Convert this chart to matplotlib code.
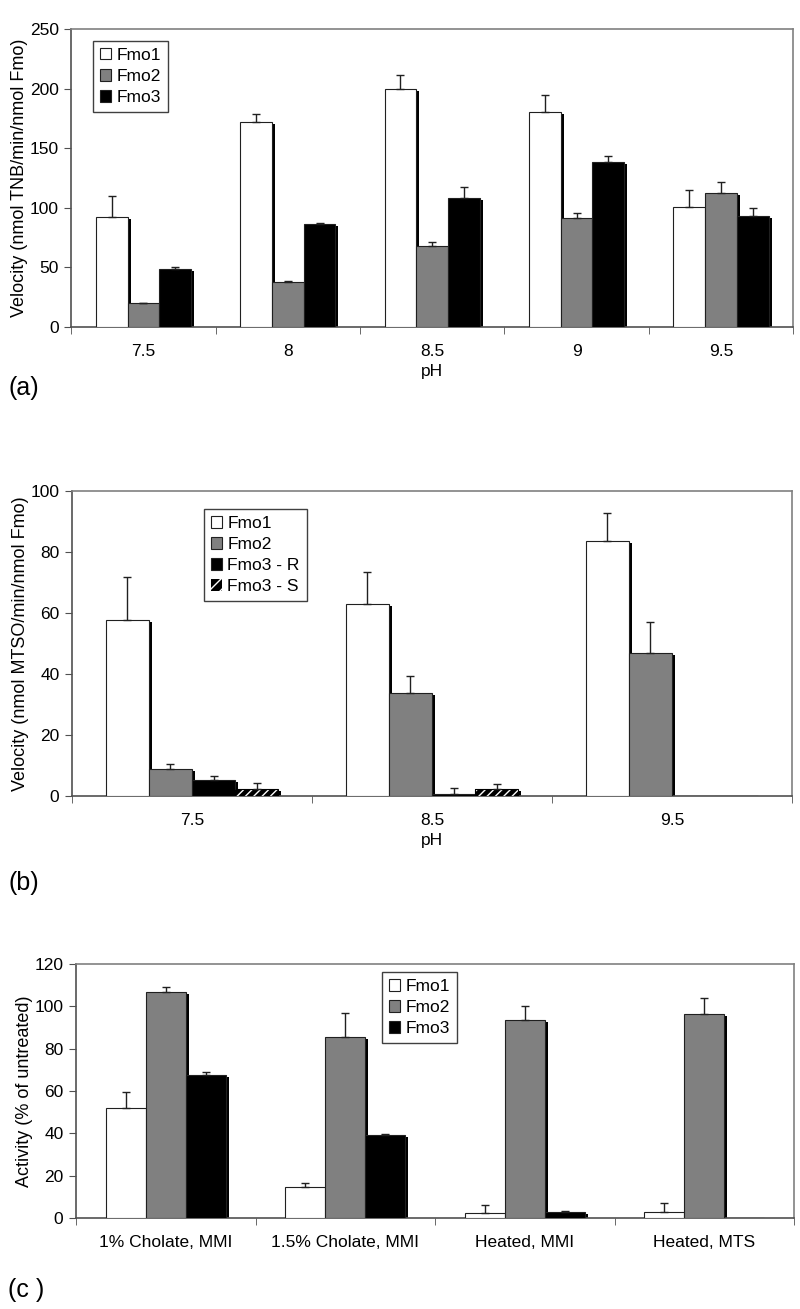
import numpy as np
import matplotlib
matplotlib.use('Agg')
import matplotlib.pyplot as plt
from matplotlib.patches import Patch

plt.rcParams['font.family'] = ['Liberation Sans', 'DejaVu Sans']
plt.rcParams['font.size'] = 12.5

# panel (a): TNB velocity vs pH
ph_a = ['7.5', '8', '8.5', '9', '9.5']
fmo1_a = [92, 172, 200, 180, 101]
fmo1_a_err = [18, 7, 11, 15, 14]
fmo2_a = [20, 38, 68, 91, 112]
fmo2_a_err = [0.5, 0.5, 3, 5, 10]
fmo3_a = [49, 86, 108, 138, 93]
fmo3_a_err = [1, 1, 9, 5, 7]

# panel (b): MTSO velocity vs pH
ph_b = ['7.5', '8.5', '9.5']
fmo1_b = [57.7, 62.8, 83.6]
fmo1_b_err = [14.1, 10.7, 9.2]
fmo2_b = [8.7, 33.7, 46.8]
fmo2_b_err = [1.7, 5.7, 10.3]
fmo3r_b = [5.4, 0.8, 0]
fmo3r_b_err = [1.0, 1.9, 0]
fmo3s_b = [2.2, 2.2, 0]
fmo3s_b_err = [2.1, 1.8, 0]

# panel (c): activity after treatment
treat_c = ['1% Cholate, MMI', '1.5% Cholate, MMI', 'Heated, MMI', 'Heated, MTS']
fmo1_c = [52, 14.6, 2.2, 3.0]
fmo1_c_err = [7.7, 1.8, 4.1, 4.1]
fmo2_c = [107, 85.7, 93.5, 96.2]
fmo2_c_err = [2, 11.3, 6.8, 7.8]
fmo3_c = [67.4, 39, 2.8, 0]
fmo3_c_err = [1.4, 0.7, 0.5, 0]

WHITE = 'white'
GRAY = '#808080'
BLACK = 'black'


def draw_panel(ax, cats, series, errs, colors, hatches, labels, width, ymax, ystep,
               ylabel, xlabel, leg_anchor):
    n = len(series)
    x = np.arange(len(cats))
    ax.set_xlim(-0.5, len(cats) - 0.5)
    ax.set_ylim(0, ymax)
    # shadow offsets in data units (about 3 px right, 2 px down)
    bbox = ax.get_window_extent()
    dx = 3.0 / bbox.width * len(cats)
    dy = 2.0 / bbox.height * ymax
    for i in range(n):
        off = (i - (n - 1) / 2.0) * width
        vals = np.array(series[i], dtype=float)
        sh = np.clip(vals - dy, 0, None)
        ax.bar(x + off + dx, sh, width, color=BLACK, linewidth=0, zorder=2)
    for i in range(n):
        off = (i - (n - 1) / 2.0) * width
        vals = np.array(series[i], dtype=float)
        if hatches[i]:
            ax.bar(x + off, vals, width, color=colors[i], edgecolor='white',
                   hatch=hatches[i], linewidth=0, zorder=3)
            ax.bar(x + off, vals, width, fill=False, edgecolor=BLACK, linewidth=0.8, zorder=4)
        else:
            ax.bar(x + off, vals, width, color=colors[i], edgecolor='#202020',
                   linewidth=0.8, zorder=3)
        e = np.array(errs[i], dtype=float)
        for j in range(len(cats)):
            if e[j] > 0:
                ax.errorbar(x[j] + off, vals[j], yerr=[[0], [e[j]]], fmt='none',
                            ecolor='#202020', elinewidth=1, capsize=3, capthick=1, zorder=5)
    ax.set_yticks(np.arange(0, ymax + 0.1, ystep))
    ax.set_xticks(x)
    ax.set_xticklabels(cats)
    ax.set_xticks(np.arange(len(cats) + 1) - 0.5, minor=True)
    ax.tick_params(axis='x', which='major', length=0, pad=12)
    ax.tick_params(axis='x', which='minor', length=5, direction='out', color='#505050')
    ax.tick_params(axis='y', length=5, direction='out', color='#505050', pad=4)
    ax.set_ylabel(ylabel, fontsize=13, labelpad=1)
    if xlabel:
        ax.set_xlabel(xlabel, labelpad=4)
    for s in ax.spines.values():
        s.set_color(GRAY)
        s.set_linewidth(1.2)
    ax.spines['left'].set_color('#505050')
    ax.spines['bottom'].set_color('#505050')
    handles = []
    for i in range(n):
        if hatches[i]:
            handles.append(Patch(facecolor=colors[i], edgecolor='white', hatch='///',
                                 linewidth=0, label=labels[i]))
        else:
            handles.append(Patch(facecolor=colors[i], edgecolor='#202020',
                                 linewidth=0.8, label=labels[i]))
    leg = ax.legend(handles=handles, loc='upper left', bbox_to_anchor=leg_anchor,
                    borderaxespad=0, fancybox=False, framealpha=1, edgecolor='#404040',
                    handlelength=0.65, handleheight=0.65, handletextpad=0.3,
                    labelspacing=0.35, fontsize=12.5, borderpad=0.4)
    leg.get_frame().set_linewidth(1.0)


fig = plt.figure(figsize=(8, 13.09), dpi=100)

ax_a = fig.add_axes([0.089, 0.7502, 0.9025, 0.2277])
draw_panel(ax_a, ph_a, [fmo1_a, fmo2_a, fmo3_a], [fmo1_a_err, fmo2_a_err, fmo3_a_err],
           [WHITE, GRAY, BLACK], [None, None, None], ['Fmo1', 'Fmo2', 'Fmo3'],
           0.22, 250, 50, 'Velocity (nmol TNB/min/nmol Fmo)', 'pH', (0.03, 0.96))

ax_b = fig.add_axes([0.09, 0.3919, 0.9, 0.233])
draw_panel(ax_b, ph_b, [fmo1_b, fmo2_b, fmo3r_b, fmo3s_b],
           [fmo1_b_err, fmo2_b_err, fmo3r_b_err, fmo3s_b_err],
           [WHITE, GRAY, BLACK, BLACK], [None, None, None, '////'],
           ['Fmo1', 'Fmo2', 'Fmo3 - R', 'Fmo3 - S'],
           0.18, 100, 20, 'Velocity (nmol MTSO/min/nmol Fmo)', 'pH', (0.183, 0.941))

ax_c = fig.add_axes([0.095, 0.0695, 0.8975, 0.194])
draw_panel(ax_c, treat_c, [fmo1_c, fmo2_c, fmo3_c], [fmo1_c_err, fmo2_c_err, fmo3_c_err],
           [WHITE, GRAY, BLACK], [None, None, None], ['Fmo1', 'Fmo2', 'Fmo3'],
           0.223, 120, 20, 'Activity (% of untreated)', None, (0.426, 0.969))

fig.text(0.01, 1 - 388 / 1309, '(a)', fontsize=18, va='center', ha='left')
fig.text(0.01, 1 - 883 / 1309, '(b)', fontsize=18, va='center', ha='left')
fig.text(0.01, 1 - 1290 / 1309, '(c )', fontsize=18, va='center', ha='left')

fig.savefig('out.png', dpi=100)
